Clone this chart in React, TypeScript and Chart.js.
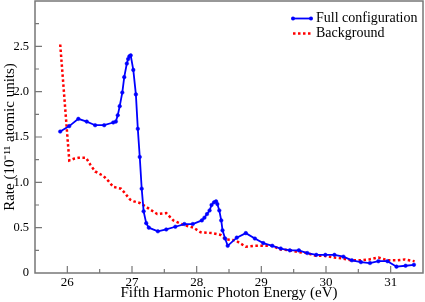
import React, { useEffect, useRef } from 'react';
import { Chart, registerables } from 'chart.js';

Chart.register(...registerables);

// Full configuration (blue, markers)
const fullX = [25.89, 26.03, 26.17, 26.30, 26.43, 26.57, 26.71, 26.75, 26.78, 26.81, 26.85, 26.88, 26.92, 26.94, 26.96, 26.98, 27.02, 27.06, 27.09, 27.12, 27.15, 27.18, 27.22, 27.26, 27.40, 27.53, 27.67, 27.81, 27.94, 28.08, 28.12, 28.16, 28.20, 28.23, 28.27, 28.30, 28.32, 28.35, 28.38, 28.40, 28.44, 28.48, 28.62, 28.76, 28.90, 29.03, 29.17, 29.30, 29.44, 29.58, 29.71, 29.85, 29.99, 30.13, 30.27, 30.40, 30.54, 30.68, 30.81, 30.95, 31.09, 31.23, 31.36];
const fullY = [1.56, 1.62, 1.70, 1.67, 1.63, 1.63, 1.66, 1.67, 1.74, 1.84, 1.99, 2.16, 2.31, 2.36, 2.39, 2.40, 2.24, 1.97, 1.59, 1.28, 0.93, 0.68, 0.55, 0.50, 0.46, 0.48, 0.51, 0.54, 0.54, 0.58, 0.61, 0.65, 0.69, 0.75, 0.78, 0.79, 0.76, 0.69, 0.58, 0.47, 0.38, 0.30, 0.39, 0.44, 0.38, 0.33, 0.30, 0.27, 0.25, 0.25, 0.22, 0.20, 0.20, 0.20, 0.18, 0.14, 0.12, 0.11, 0.13, 0.13, 0.07, 0.08, 0.09];

// Background (red, dotted)
const bgX = [25.89, 26.03, 26.10, 26.17, 26.29, 26.36, 26.43, 26.56, 26.64, 26.71, 26.83, 26.88, 26.97, 27.03, 27.13, 27.26, 27.39, 27.53, 27.64, 27.80, 27.95, 28.06, 28.24, 28.37, 28.45, 28.60, 28.76, 28.90, 29.04, 29.17, 29.30, 29.45, 29.58, 29.71, 29.84, 29.97, 30.13, 30.26, 30.38, 30.53, 30.67, 30.81, 30.95, 31.09, 31.22, 31.37];
const bgY = [2.52, 1.24, 1.26, 1.27, 1.27, 1.19, 1.12, 1.07, 1.01, 0.95, 0.93, 0.89, 0.81, 0.79, 0.77, 0.71, 0.65, 0.66, 0.58, 0.53, 0.50, 0.45, 0.44, 0.42, 0.37, 0.36, 0.29, 0.30, 0.30, 0.30, 0.26, 0.25, 0.23, 0.22, 0.19, 0.19, 0.17, 0.16, 0.14, 0.14, 0.15, 0.17, 0.14, 0.14, 0.15, 0.13];

const xTickValues = [26, 27, 28, 29, 30, 31];
const xTickLabels = ['26', '27', '28', '29', '30', '31'];
const yTickValues = [0, 0.5, 1.0, 1.5, 2.0, 2.5];
const yTickLabels = ['0', '0.5', '1.0', '1.5', '2.0', '2.5'];

const seriesNames = ['Full configuration', 'Background'];

const FONT = '"Liberation Serif", "Times New Roman", serif';
const AXIS_COLOR = '#777777';

function labelFor(values: number[], labels: string[], v: number) {
  const i = values.findIndex((t) => Math.abs(t - v) < 1e-6);
  return i >= 0 ? labels[i] : '';
}

const framePlugin = {
  id: 'frameTicks',
  afterDatasetsDraw(chart: any) {
    const ctx = chart.ctx;
    const { left, right, top, bottom } = chart.chartArea;
    const xs = chart.scales.x;
    const ys = chart.scales.y;
    ctx.save();
    ctx.strokeStyle = AXIS_COLOR;
    ctx.lineWidth = 1.5;
    ctx.strokeRect(left, top, right - left, bottom - top);
    ctx.lineWidth = 1.2;
    ctx.beginPath();
    xs.ticks.forEach((t: any) => {
      const px = xs.getPixelForValue(t.value);
      if (px <= left + 1 || px >= right - 1) return;
      const major = labelFor(xTickValues, xTickLabels, t.value) !== '';
      const len = major ? 7 : 4;
      ctx.moveTo(px, bottom);
      ctx.lineTo(px, bottom - len);
    });
    ys.ticks.forEach((t: any) => {
      const py = ys.getPixelForValue(t.value);
      if (py >= bottom - 1 || py <= top + 1) return;
      const major = Math.abs(t.value * 2 - Math.round(t.value * 2)) < 1e-6;
      const len = major ? 7 : 4;
      ctx.moveTo(left, py);
      ctx.lineTo(left + len, py);
    });
    ctx.stroke();

    // legend
    const lx0 = 293;
    const lx1 = 311;
    const rows = [18.5, 33.5];
    ctx.font = '14px ' + FONT;
    ctx.textBaseline = 'middle';
    ctx.textAlign = 'left';
    // blue sample
    ctx.strokeStyle = '#0000ff';
    ctx.lineWidth = 1.8;
    ctx.setLineDash([]);
    ctx.beginPath();
    ctx.moveTo(lx0, rows[0]);
    ctx.lineTo(lx1, rows[0]);
    ctx.stroke();
    ctx.fillStyle = '#0000ff';
    [lx0, lx1].forEach((x) => {
      ctx.beginPath();
      ctx.arc(x, rows[0], 2, 0, Math.PI * 2);
      ctx.fill();
    });
    // red sample
    ctx.strokeStyle = '#ff0000';
    ctx.lineWidth = 2.5;
    ctx.setLineDash([2.5, 2.5]);
    ctx.beginPath();
    ctx.moveTo(lx0, rows[1]);
    ctx.lineTo(lx1, rows[1]);
    ctx.stroke();
    ctx.setLineDash([]);
    ctx.fillStyle = '#000000';
    ctx.fillText(seriesNames[0], 316, rows[0]);
    ctx.fillText(seriesNames[1], 316, rows[1]);
    ctx.restore();
  },
};

export default function App() {
  const ref = useRef<HTMLCanvasElement | null>(null);
  useEffect(() => {
    if (!ref.current) return;
    const chart = new Chart(ref.current, {
      type: 'line',
      data: {
        datasets: [
          {
            label: seriesNames[0],
            data: fullX.map((x, i) => ({ x, y: fullY[i] })),
            borderColor: '#0000ff',
            backgroundColor: '#0000ff',
            borderWidth: 1.8,
            pointRadius: 1.8,
            pointBorderWidth: 0.5,
            pointBackgroundColor: '#0000ff',
            pointBorderColor: '#0000ff',
            tension: 0,
            fill: false,
            order: 1,
          },
          {
            label: seriesNames[1],
            data: bgX.map((x, i) => ({ x, y: bgY[i] })),
            borderColor: '#ff0000',
            backgroundColor: '#ff0000',
            borderWidth: 2.5,
            borderDash: [2.5, 2.5],
            pointRadius: 0,
            tension: 0,
            fill: false,
            order: 2,
          },
        ],
      },
      options: {
        responsive: false,
        maintainAspectRatio: false,
        animation: false,
        events: [],
        layout: { autoPadding: false, padding: { top: 1, right: 2, left: 0, bottom: 0 } },
        plugins: {
          legend: { display: false },
          tooltip: { enabled: false },
        },
        scales: {
          x: {
            type: 'linear',
            min: 25.5,
            max: 31.5,
            afterFit: (s: any) => {
              s.height = 29;
              s.paddingLeft = 0;
              s.paddingRight = 0;
            },
            grid: { display: false, drawTicks: false },
            border: { display: false },
            ticks: {
              stepSize: 0.5,
              autoSkip: false,
              maxRotation: 0,
              padding: 2,
              color: '#000000',
              font: { family: FONT, size: 13 },
              callback: (v: any) => labelFor(xTickValues, xTickLabels, Number(v)),
            },
            title: {
              display: true,
              text: 'Fifth Harmonic Photon Energy (eV)',
              color: '#000000',
              font: { family: FONT, size: 15 },
              padding: { top: 0, bottom: 0 },
            },
          },
          y: {
            type: 'linear',
            min: 0,
            max: 3,
            afterFit: (s: any) => {
              s.width = 35;
              s.paddingTop = 0;
              s.paddingBottom = 0;
            },
            grid: { display: false, drawTicks: false },
            border: { display: false },
            ticks: {
              stepSize: 0.25,
              autoSkip: false,
              padding: 6,
              color: '#000000',
              font: { family: FONT, size: 12.5 },
              callback: (v: any) => labelFor(yTickValues, yTickLabels, Number(v)),
            },
            title: {
              display: true,
              text: 'Rate (10\u207B\u00B9\u00B9 atomic units)',
              color: '#000000',
              font: { family: FONT, size: 15 },
              padding: { top: 1, bottom: 0 },
            },
          },
        },
      },
      plugins: [framePlugin],
    });
    return () => chart.destroy();
  }, []);
  return (
    <div style={{ position: 'fixed', left: 0, top: 0, width: 425, height: 302, background: '#ffffff' }}>
      <canvas ref={ref} width={425} height={302} style={{ width: 425, height: 302, display: 'block' }} />
    </div>
  );
}
